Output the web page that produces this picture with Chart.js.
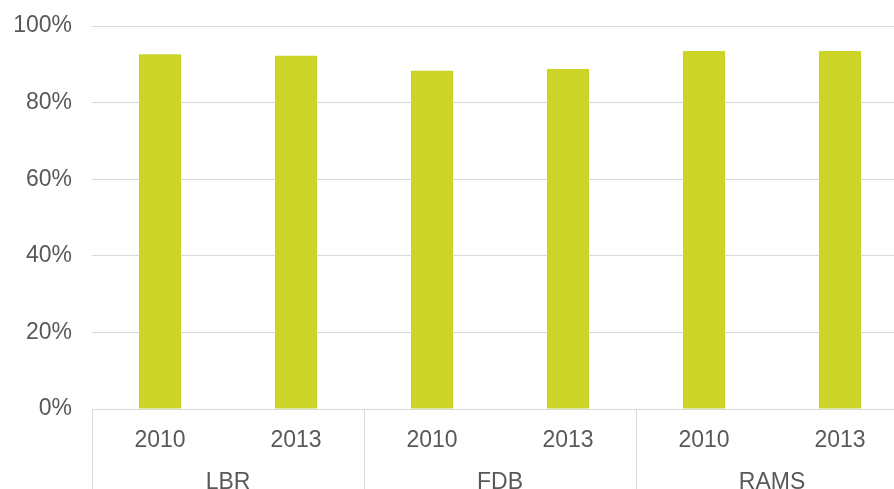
<!DOCTYPE html>
<html>
<head>
<meta charset="utf-8">
<script src="https://cdn.jsdelivr.net/npm/chart.js@4/dist/chart.umd.min.js"></script>
<style>
  html, body { margin: 0; padding: 0; background: #fff; overflow: hidden; }
  #wrap { width: 912px; height: 500px; }
</style>
</head>
<body>
<div id="wrap"><canvas id="chart"></canvas></div>
<script>
// Data
const groups = ['LBR', 'FDB', 'RAMS'];
const years = ['2010', '2013', '2010', '2013', '2010', '2013'];
const shares = [92.6, 92.2, 88.3, 88.8, 93.5, 93.5];
const yTicks = [0, 20, 40, 60, 80, 100];

const textColor = '#595959';
const lineColor = '#d9d9d9';
const labelFont = { family: 'Liberation Sans, Arial, sans-serif', size: 23 };

// vertical separators between groups, from the x axis down to the bottom
const groupLines = {
  id: 'groupLines',
  afterDraw(chart) {
    const x2 = chart.scales.x2;
    const top = chart.scales.x.top;
    const ctx = chart.ctx;
    ctx.save();
    ctx.strokeStyle = lineColor;
    ctx.lineWidth = 1;
    for (let i = 0; i <= groups.length; i++) {
      const px = Math.round(x2.getPixelForValue(i - 0.5)) + 0.5;
      ctx.beginPath();
      ctx.moveTo(px, top);
      ctx.lineTo(px, chart.height);
      ctx.stroke();
    }
    ctx.restore();
  }
};

new Chart(document.getElementById('chart'), {
  type: 'bar',
  data: {
    labels: years,
    datasets: [{
      data: shares,
      backgroundColor: '#cdd428',
      barPercentage: 0.31,
      categoryPercentage: 1
    }]
  },
  options: {
    responsive: true,
    maintainAspectRatio: false,
    animation: false,
    layout: { padding: { left: 12, right: 4, top: 26, bottom: 0 } },
    plugins: { legend: { display: false }, tooltip: { enabled: false } },
    scales: {
      y: {
        min: 0,
        max: 100,
        afterBuildTicks: (axis) => { axis.ticks = yTicks.map(v => ({ value: v })); },
        afterFit: (axis) => { axis.width = 80; axis.paddingTop = 0; axis.paddingBottom = 0; },
        ticks: {
          callback: (v) => v + '%',
          color: textColor,
          font: labelFont,
          padding: 20
        },
        grid: { color: lineColor, drawTicks: false },
        border: { display: false }
      },
      x: {
        position: 'bottom',
        afterFit: (axis) => { axis.height = 42; },
        ticks: { color: textColor, font: labelFont, padding: 10, maxRotation: 0 },
        grid: { display: false },
        border: { display: true, color: lineColor }
      },
      x2: {
        type: 'category',
        position: 'bottom',
        labels: groups,
        offset: true,
        afterFit: (axis) => { axis.height = 49; },
        ticks: { color: textColor, font: labelFont, padding: 10, maxRotation: 0 },
        grid: { display: false },
        border: { display: false }
      }
    }
  },
  plugins: [groupLines]
});
</script>
</body>
</html>
